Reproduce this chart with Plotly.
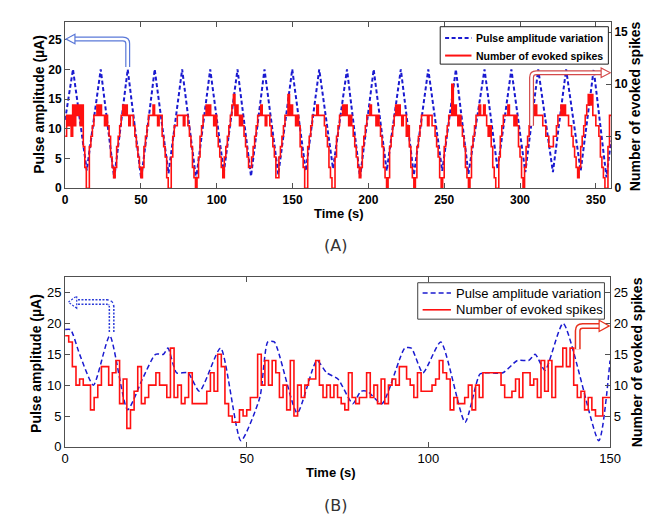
import plotly.graph_objects as go

W, H = 671, 522

# ---------------- Panel A data ----------------
top_amp_t = [0, 5.2, 14.3, 23.5, 32.4, 41.3, 50.2, 59.1, 68.2, 77.2, 86.4, 95.7, 104.7, 113.7,
             122.6, 131.5, 140.6, 149.8, 158.7, 167.6, 176.7, 185.9, 194.5, 203.5, 212.1, 221.4,
             230.0, 239.5, 248.7, 257.7, 266.0, 276.6, 285.2, 294.3, 303.5, 312.0, 321.7, 330.4,
             340.0, 348.6, 357.0, 360]
top_amp_v = [11.5, 20, 3.0, 20, 1.7, 20, 1.6, 20, 2.5, 20, 1.5, 20, 2.7, 20,
             2.0, 20, 2.3, 20, 2.9, 20, 3.3, 20, 1.8, 20, 2.9, 20,
             2.2, 20, 2.9, 20, 2.4, 20, 3.2, 20, 2.7, 20, 2.7, 20,
             2.9, 20, 1.8, 8]

top_spikes_head = [5, 7, 6, 7, 5, 8, 6, 8, 7, 8, 6, 8, 4, 2]
top_spikes_cycles = [
    [0, 0, 4, 5, 6, 7, 7, 8, 7, 8, 7, 7, 6, 7, 6, 5, 3, 2],
    [1, 2, 4, 5, 6, 7, 8, 7, 8, 7, 6, 7, 7, 6, 5, 4, 3, 2],
    [1, 2, 4, 5, 6, 7, 7, 7, 8, 7, 7, 6, 7, 7, 5, 4, 3, 1],
    [0, 0, 3, 5, 6, 6, 7, 7, 7, 7, 6, 7, 7, 6, 5, 4, 2, 1],
    [0, 1, 3, 5, 6, 7, 7, 8, 7, 8, 7, 7, 6, 7, 5, 4, 3, 2],
    [1, 3, 4, 5, 6, 7, 8, 9, 7, 8, 7, 6, 7, 6, 5, 4, 3, 2],
    [2, 3, 4, 5, 6, 7, 7, 8, 7, 7, 6, 7, 7, 6, 5, 4, 3, 1],
    [1, 3, 4, 5, 6, 7, 7, 9, 7, 8, 7, 7, 6, 7, 6, 4, 3, 2],
    [0, 0, 4, 5, 6, 7, 7, 7, 8, 7, 7, 7, 7, 6, 5, 4, 2, 1],
    [0, 0, 3, 5, 6, 7, 7, 8, 7, 8, 7, 6, 7, 6, 5, 4, 3, 2],
    [1, 2, 4, 5, 6, 7, 7, 8, 7, 7, 7, 6, 7, 6, 5, 4, 2, 1],
    [0, 1, 4, 5, 6, 7, 8, 7, 8, 7, 6, 7, 7, 5, 6, 4, 2, 1],
    [0, 1, 4, 5, 6, 7, 7, 7, 7, 6, 7, 7, 6, 6, 5, 4, 3, 1],
    [0, 1, 4, 5, 6, 7, 7, 10, 7, 8, 7, 6, 7, 6, 5, 4, 2, 1],
    [0, 1, 4, 5, 6, 7, 7, 8, 7, 7, 8, 7, 6, 5, 6, 4, 2, 1],
    [0, 0, 3, 5, 6, 7, 7, 7, 8, 7, 7, 7, 6, 7, 6, 4, 3, 1],
    [0, 2, 4, 5, 6, 7, 8, 7, 8, 7, 7, 7, 7, 6, 6, 5, 5, 4],
    [4, 4, 5, 5, 6, 7, 7, 8, 7, 8, 7, 7, 6, 6, 5, 4, 3, 2],
    [1, 2, 4, 5, 6, 7, 8, 9, 8, 9, 7, 7, 6, 6, 5, 3, 2, 1],
]
top_spikes_tail = [0, 0, 4, 7]

top_spikes = list(top_spikes_head)
for c in top_spikes_cycles:
    top_spikes += c
top_spikes += top_spikes_tail

# ---------------- Panel B data ----------------
bot_amp_t = [0, 1.5, 4, 7.8, 12.3, 17.2, 21.3, 24.9, 27.1, 28.3, 30.7, 33.8, 37, 42.8, 48.4,
             53.6, 55.8, 57.6, 63.9, 69.3, 72, 75.1, 79.2, 81.4, 83.2, 87.2, 93.5, 95.3, 98.5,
             103.4, 110.1, 114.2, 116.4, 120.5, 124.5, 127.6, 129.4, 132.1, 137.1, 146.9, 150]
bot_amp_v = [19, 19, 15, 10, 18, 6, 11, 15, 15, 16, 12, 12, 9, 16, 1,
             8, 17, 17, 5.5, 14, 12, 11, 7, 9, 9, 7, 16, 16, 12,
             17, 4, 11.8, 12, 12, 14, 14, 15, 12.4, 20, 1, 14]

bot_spikes = [
    18, 17, 13, 10, 11, 10, 10, 6, 8, 10,
    13, 13, 10, 12, 14, 7, 11, 3, 6, 9,
    13, 7, 8, 10, 10, 12, 10, 10, 8, 16,
    8, 10, 7, 8, 12, 7, 7, 7, 7, 9,
    12, 9, 15, 13, 7, 5, 4, 4, 6, 5,
    6, 8, 8, 15, 10, 14, 10, 14, 12, 8,
    10, 6, 14, 5, 10, 8, 10, 11, 11, 14,
    10, 8, 10, 8, 10, 8, 7, 6, 12, 8,
    7, 8, 8, 12, 8, 10, 7, 11, 7, 10,
    11, 10, 13, 13, 11, 10, 8, 12, 9, 9,
    9, 10, 11, 14, 12, 11, 6, 8, 7, 7,
    8, 10, 6, 10, 8, 12, 12, 12, 12, 12,
    10, 8, 8, 9, 11, 8, 12, 12, 10, 11,
    8, 14, 9, 14, 8, 13, 13, 16, 13, 16,
    10, 8, 9, 6, 8, 6, 5, 5, 8, 8,
]

legend_names = ["Pulse amplitude variation", "Number of evoked spikes"]
top_x_ticks = [0, 50, 100, 150, 200, 250, 300, 350]
top_yl_ticks = [0, 5, 10, 15, 20, 25]
top_yr_ticks = [0, 5, 10, 15]
bot_x_ticks = [0, 50, 100, 150]
bot_yl_ticks = [0, 5, 10, 15, 20, 25]
bot_yr_ticks = [5, 10, 15, 20, 25]

TOP_L_MAX, TOP_R_MAX = 28, 16
BOT_MAX = 27.5

# step x positions (one value per second)
top_step_x = list(range(len(top_spikes) + 1))
top_step_y = top_spikes + [top_spikes[-1]]
bot_step_x = list(range(len(bot_spikes) + 1))
bot_step_y = bot_spikes + [bot_spikes[-1]]

BLUE = "#1a1ad0"
RED = "#ff1010"
FONT = "Liberation Sans, Arial, sans-serif"
TOP_DASH = "4px,2.5px"
BOT_DASH = "5px,3px"

fig = go.Figure()
fig.add_trace(go.Scatter(x=top_amp_t, y=top_amp_v, mode="lines", name=legend_names[0],
                         line=dict(color=BLUE, width=2, dash=TOP_DASH),
                         xaxis="x", yaxis="y"))
fig.add_trace(go.Scatter(x=top_step_x, y=top_step_y, mode="lines", name=legend_names[1],
                         line=dict(color=RED, width=1.6, shape="hv"),
                         xaxis="x", yaxis="y2"))
fig.add_trace(go.Scatter(x=bot_amp_t, y=bot_amp_v, mode="lines", name=legend_names[0],
                         line=dict(color=BLUE, width=1.5, dash=BOT_DASH, shape="spline", smoothing=0.6),
                         xaxis="x2", yaxis="y3"))
fig.add_trace(go.Scatter(x=bot_step_x, y=bot_step_y, mode="lines", name=legend_names[1],
                         line=dict(color=RED, width=1.6, shape="hv"),
                         xaxis="x2", yaxis="y4"))

LINEC = "#505050"
top_font = dict(family=FONT, size=12, color="black", weight="bold")
bot_font = dict(family=FONT, size=13, color="black")

def xax(domain, anchor, rng, ticks, font):
    return dict(domain=domain, anchor=anchor, range=rng, tickvals=ticks,
                ticks="inside", ticklen=5, tickcolor=LINEC, showline=True, linecolor=LINEC,
                linewidth=1, mirror="ticks", showgrid=False, zeroline=False, tickfont=font)

def yax(domain, anchor, rng, ticks, font, side="left", overlaying=None):
    d = dict(anchor=anchor, range=rng, tickvals=ticks, side=side,
             ticks="inside", ticklen=5, tickcolor=LINEC, showline=True, linecolor=LINEC,
             linewidth=1, showgrid=False, zeroline=False, tickfont=font)
    if overlaying:
        d["overlaying"] = overlaying
    else:
        d["domain"] = domain
    return d

top_xd = [54.3 / W, 612.7 / W]
top_yd = [1 - 183 / H, 1 - 14 / H]
bot_xd = [54.3 / W, 611.7 / W]
bot_yd = [1 - 445.7 / H, 1 - 273.3 / H]

shapes = []
annotations = []

def bent_arrow(xref, yref, xv, y0, ytop, rx, ry, xbase, xtip, hh, color, outer, inner, dash=None):
    s = 1 if xtip > xv else -1
    path = (f"M {xv},{y0} L {xv},{ytop - ry} Q {xv},{ytop} {xv + s * rx},{ytop} "
            f"L {xbase},{ytop}")
    ol = dict(color=color, width=outer)
    if dash:
        ol["dash"] = dash
    shapes.append(dict(type="path", path=path, xref=xref, yref=yref, line=ol, layer="above"))
    shapes.append(dict(type="path", path=path, xref=xref, yref=yref,
                       line=dict(color="white", width=inner), layer="above"))
    hl = dict(color=color, width=1.2)
    if dash:
        hl["dash"] = dash
    shapes.append(dict(type="path",
                       path=f"M {xbase},{ytop - hh} L {xtip},{ytop} L {xbase},{ytop + hh} Z",
                       xref=xref, yref=yref, fillcolor="white", line=hl, layer="above"))

k = TOP_L_MAX / TOP_R_MAX  # right-axis units -> left-axis units (panel A)
# Panel A arrows (in left-axis units)
bent_arrow("x", "y", 41.3, 20.4, 25.1, 3.2, 0.8, 6.5, 0.6, 0.8, "#5a78d8", 5, 2.6)
bent_arrow("x", "y", 307.6, 6.0 * k, 11.1 * k, 3.2, 0.8, 353.5, 359.6, 0.8, "#d44a4a", 5, 2.6)
# Panel B arrows
bent_arrow("x2", "y3", 12.8, 18.6, 23.45, 1.35, 0.8, 3.2, 0.9, 1.0, "#2a3ad8", 6, 3, dash="2px,1.5px")
bent_arrow("x2", "y3", 141.1, 15.8, 19.6, 1.35, 0.8, 147.0, 149.8, 0.9, "#e8321e", 6, 3)

def px(x):
    return x / W

def py(y):
    return 1 - y / H

def legend_box(x0, y0, x1, y1, sx0, sx1, tx, rows, font, widths, dashes, border):
    shapes.append(dict(type="rect", xref="paper", yref="paper", x0=px(x0), x1=px(x1),
                       y0=py(y1), y1=py(y0), line=dict(color=border, width=1),
                       fillcolor="white", layer="above"))
    colors = [BLUE, RED]
    for i, (name, ry) in enumerate(zip(legend_names, rows)):
        ln = dict(color=colors[i], width=widths[i])
        if dashes[i]:
            ln["dash"] = dashes[i]
        shapes.append(dict(type="line", xref="paper", yref="paper", x0=px(sx0), x1=px(sx1),
                           y0=py(ry), y1=py(ry), line=ln, layer="above"))
        annotations.append(dict(text=name, x=px(tx), y=py(ry), xref="paper", yref="paper",
                                xanchor="left", yanchor="middle", showarrow=False, font=font))

legend_box(438, 19, 610, 57, 443, 470, 473, [30.5, 48.3],
           dict(family=FONT, size=10.5, weight="bold", color="black"), [2, 2], [TOP_DASH, None], "#202020")
legend_box(415, 279, 606, 316, 420, 449, 452, [289.5, 306.5],
           dict(family=FONT, size=13, color="black"), [1.5, 1.6], [BOT_DASH, None], "#404040")

title_font = dict(family=FONT, size=14, weight="bold", color="black")
xt_font = dict(family=FONT, size=13, weight="bold", color="black")
lab_font = dict(family="DejaVu Sans", size=16, color="#333333")
for text, x, y, ang, f in [
    ("Pulse amplitude (µA)", 28, 98, -90, title_font),
    ("Number of evoked spikes", 638, 100, -90, title_font),
    ("Time (s)", 334, 209, 0, xt_font),
    ("(A)", 331, 241, 0, lab_font),
    ("Pulse amplitude (µA)", 25, 361, -90, title_font),
    ("Number of evoked spikes", 640, 360, -90, title_font),
    ("Time (s)", 326, 472, 0, xt_font),
    ("(B)", 331, 505, 0, lab_font),
]:
    annotations.append(dict(text=text, x=px(x), y=py(y), xref="paper", yref="paper",
                            xanchor="center", yanchor="middle", textangle=ang,
                            showarrow=False, font=f))

fig.update_layout(
    width=W, height=H, margin=dict(l=0, r=0, t=0, b=0),
    paper_bgcolor="white", plot_bgcolor="white",
    xaxis=xax(top_xd, "y", [0, 360], top_x_ticks, top_font),
    yaxis=yax(top_yd, "x", [0, TOP_L_MAX], top_yl_ticks, top_font),
    yaxis2=yax(None, "x", [0, TOP_R_MAX], top_yr_ticks, top_font, side="right", overlaying="y"),
    xaxis2=xax(bot_xd, "y3", [0, 150], bot_x_ticks, bot_font),
    yaxis3=yax(bot_yd, "x2", [0, BOT_MAX], bot_yl_ticks, bot_font),
    yaxis4=yax(None, "x2", [0, BOT_MAX], bot_yr_ticks, bot_font, side="right", overlaying="y3"),
    shapes=shapes,
    annotations=annotations,
    showlegend=False,
)

fig.write_html("out.html")
